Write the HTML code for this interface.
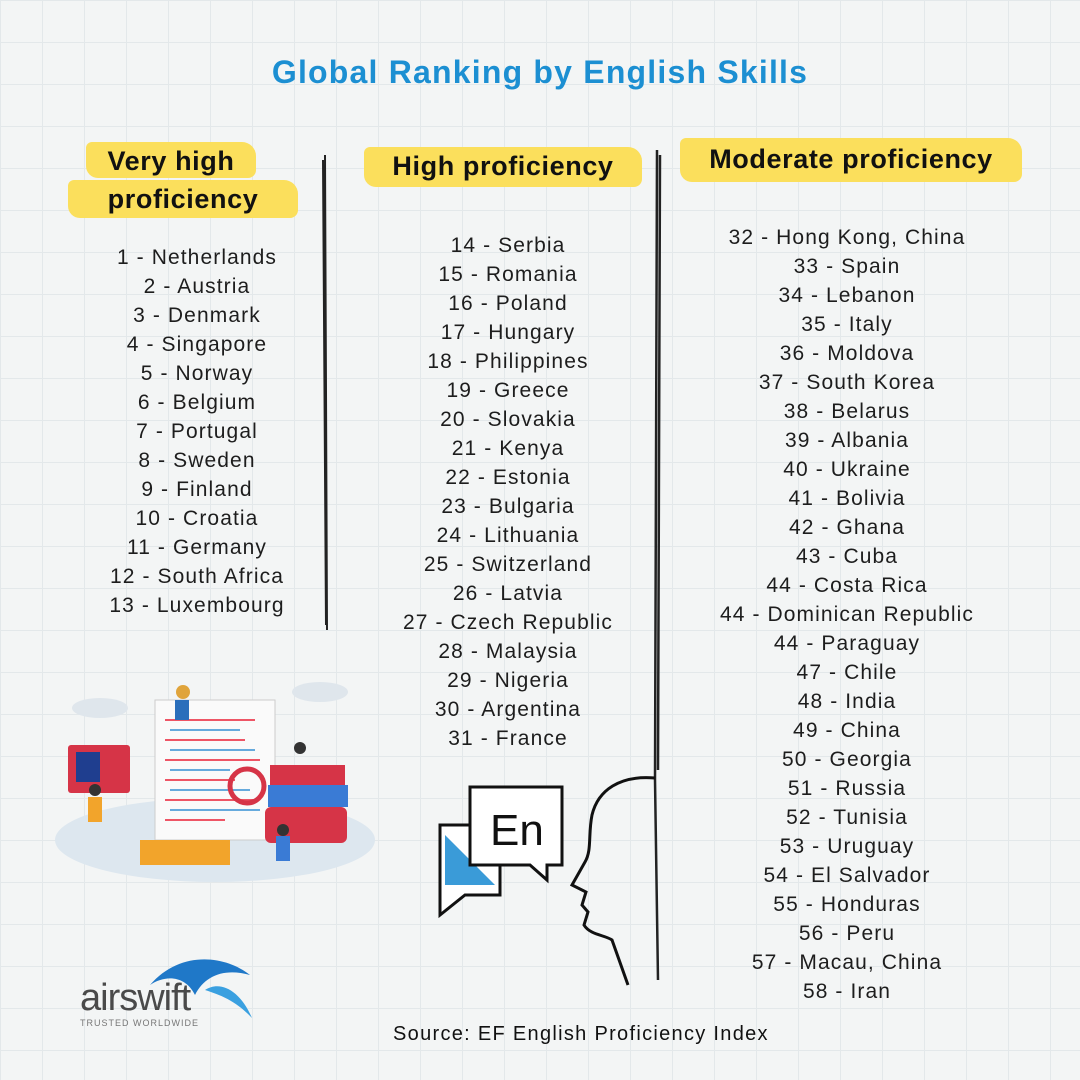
<!DOCTYPE html>
<html><head><meta charset="utf-8"><style>
*{margin:0;padding:0;box-sizing:border-box}
body{width:1080px;height:1080px;overflow:hidden;position:relative;font-family:"Liberation Sans",sans-serif;
background-color:#f3f5f5;
background-image:linear-gradient(#e3e8ea 1px,transparent 1px),linear-gradient(90deg,#e3e8ea 1px,transparent 1px);
background-size:42px 42px;}
.t{position:absolute;left:0;width:1080px;text-align:center;top:54px;font-size:32px;color:#1c8fd2;font-weight:bold;letter-spacing:1.2px}
.col{position:absolute;text-align:center;font-size:21px;line-height:29px;color:#1d1d1d;letter-spacing:1.1px}
.hl{position:absolute;background:#fbdf5c;border-radius:6px 14px 8px 12px;font-weight:bold;font-size:27px;color:#111;text-align:center;line-height:38px;letter-spacing:0.6px}
.src{position:absolute;top:1023px;left:393px;font-size:20px;color:#111;letter-spacing:1.3px}
</style></head><body>
<div class="t">Global Ranking by English Skills</div>

<div class="hl" style="left:86px;top:142px;width:170px;height:36px">Very high</div>
<div class="hl" style="left:68px;top:180px;width:230px;height:38px">proficiency</div>
<div class="hl" style="left:364px;top:147px;width:278px;height:40px">High proficiency</div>
<div class="hl" style="left:680px;top:138px;width:342px;height:44px;line-height:42px">Moderate proficiency</div>

<div class="col" style="left:72px;width:250px;top:243px">1 - Netherlands<br>2 - Austria<br>3 - Denmark<br>4 - Singapore<br>5 - Norway<br>6 - Belgium<br>7 - Portugal<br>8 - Sweden<br>9 - Finland<br>10 - Croatia<br>11 - Germany<br>12 - South Africa<br>13 - Luxembourg</div>
<div class="col" style="left:363px;width:290px;top:231px">14 - Serbia<br>15 - Romania<br>16 - Poland<br>17 - Hungary<br>18 - Philippines<br>19 - Greece<br>20 - Slovakia<br>21 - Kenya<br>22 - Estonia<br>23 - Bulgaria<br>24 - Lithuania<br>25 - Switzerland<br>26 - Latvia<br>27 - Czech Republic<br>28 - Malaysia<br>29 - Nigeria<br>30 - Argentina<br>31 - France</div>
<div class="col" style="left:682px;width:330px;top:223px">32 - Hong Kong, China<br>33 - Spain<br>34 - Lebanon<br>35 - Italy<br>36 - Moldova<br>37 - South Korea<br>38 - Belarus<br>39 - Albania<br>40 - Ukraine<br>41 - Bolivia<br>42 - Ghana<br>43 - Cuba<br>44 - Costa Rica<br>44 - Dominican Republic<br>44 - Paraguay<br>47 - Chile<br>48 - India<br>49 - China<br>50 - Georgia<br>51 - Russia<br>52 - Tunisia<br>53 - Uruguay<br>54 - El Salvador<br>55 - Honduras<br>56 - Peru<br>57 - Macau, China<br>58 - Iran</div>

<svg width="1080" height="1080" style="position:absolute;left:0;top:0">
<path d="M325 155 L327 630 M323 160 L326 625" stroke="#222" stroke-width="2" fill="none"/>
<path d="M657 150 L655 780 L658 980 M660 155 L658 770" stroke="#222" stroke-width="2.5" fill="none"/>
<path d="M655 778 C620 775 598 790 592 815 C588 835 592 850 585 862 L572 885 L586 892 L582 905 L588 912 L584 925 C590 935 605 935 612 940 L628 985" stroke="#111" stroke-width="3" fill="none"/>
<path d="M440 825 L500 825 L500 895 L465 895 L440 915 Z" stroke="#111" stroke-width="3" fill="#fff"/>
<path d="M445 835 L495 885 L445 885 Z" fill="#3a9bd8"/>
<path d="M470 787 L562 787 L562 865 L547 865 L547 880 L530 865 L470 865 Z" stroke="#111" stroke-width="3" fill="#fff"/>
<text x="490" y="845" font-family="Liberation Sans" font-size="44" fill="#111">En</text>
<ellipse cx="215" cy="840" rx="160" ry="42" fill="#dde7ef"/>
<ellipse cx="320" cy="692" rx="28" ry="10" fill="#dfe6ec"/>
<ellipse cx="100" cy="708" rx="28" ry="10" fill="#dfe6ec"/>
<rect x="155" y="700" width="120" height="140" fill="#fafafa" stroke="#ccc"/>
<g stroke="#e56" stroke-width="2"><path d="M165 720h90M165 740h80M165 760h95M165 780h70M165 800h90M165 820h60"/></g>
<g stroke="#6ad" stroke-width="2"><path d="M170 730h70M170 750h85M170 770h60M170 790h80M170 810h90"/></g>
<rect x="68" y="745" width="62" height="48" fill="#d63447" rx="3"/>
<rect x="76" y="752" width="24" height="30" fill="#1f3e8f"/>
<rect x="270" y="765" width="75" height="20" fill="#d63447"/>
<rect x="268" y="785" width="80" height="22" fill="#3a7bd5"/>
<rect x="265" y="807" width="82" height="36" fill="#d63447" rx="6"/>
<rect x="140" y="840" width="90" height="25" fill="#f2a42b"/>
<circle cx="247" cy="786" r="17" fill="none" stroke="#d63447" stroke-width="5"/>
<circle cx="183" cy="692" r="7" fill="#e0a43b"/><rect x="175" y="700" width="14" height="20" fill="#2a6ebb"/>
<circle cx="300" cy="748" r="6" fill="#333"/>
<circle cx="95" cy="790" r="6" fill="#333"/><rect x="88" y="797" width="14" height="25" fill="#f2a42b"/>
<circle cx="283" cy="830" r="6" fill="#333"/><rect x="276" y="836" width="14" height="25" fill="#3a7bd5"/>
<path d="M150 985 C180 950 225 955 250 975 C225 968 205 975 195 995 C185 975 165 975 150 985Z" fill="#1f78c8"/>
<path d="M205 990 C220 980 240 990 252 1018 C235 1000 220 995 205 990Z" fill="#3aa0e0"/>
<text x="80" y="1010" font-family="Liberation Sans" font-size="38" fill="#4a4a4a" letter-spacing="-1">airswift</text>
<text x="80" y="1026" font-family="Liberation Sans" font-size="9" fill="#777" letter-spacing="1">TRUSTED WORLDWIDE</text>
</svg>
<div class="src">Source: EF English Proficiency Index</div>
</body></html>
